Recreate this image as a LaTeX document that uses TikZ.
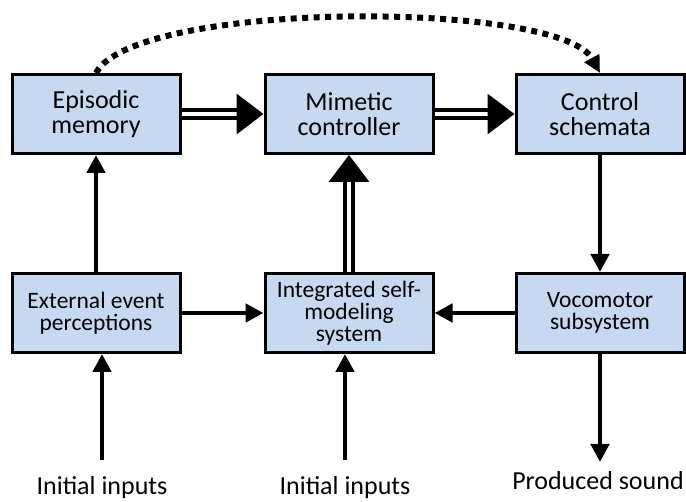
\documentclass[tikz,border=0pt]{standalone}
\usepackage{fontspec}
\setmainfont{Carlito}
\usetikzlibrary{arrows.meta,shadows}
\definecolor{boxblue}{RGB}{198,217,241}
\tikzset{
    blk/.style={draw, line width=3pt, fill=boxblue, minimum width=168pt, minimum height=79pt,
        align=center, drop shadow={shadow xshift=2pt, shadow yshift=-2pt, opacity=0.3}},
    upper/.style={blk, font=\fontsize{26}{24.5}\selectfont},
    lower/.style={blk, font=\fontsize{23.5}{22}\selectfont},
    lbl/.style={inner sep=0pt, font=\fontsize{26}{30}\selectfont},
    arr/.style={line width=4.5pt, -{Triangle[length=18pt,width=18pt]}},
    dblarr/.style={double, double distance=4.5pt, line width=3.5pt, -{Triangle[length=27pt,width=40pt]}},
    dotarr/.style={line width=6pt, dash pattern=on 6pt off 5.5pt, -{Triangle[length=17pt,width=16pt]}}
}
\begin{document}
\begin{tikzpicture}[x=1pt,y=1pt]
    \useasboundingbox (0,0) rectangle (686,502);

    \node[upper] (epi) at (96,388) {Episodic\\memory};
    \node[upper] (mim) at (349,388) {Mimetic\\controller};
    \node[upper] (ctl) at (600,388) {Control\\schemata};

    \node[lower] (ext) at (96,189) {External event\\perceptions};
    \node[lower] (ism) at (349,189) {Integrated self-\\modeling\\system};
    \node[lower] (voc) at (600,189) {Vocomotor\\subsystem};

    \node[lbl] (in1) at (102,14) {Initial inputs};
    \node[lbl] (in2) at (345,14) {Initial inputs};
    \node[lbl] (snd) at (598,21) {Produced sound};
    \coordinate (in1src) at (102,42);
    \coordinate (in2src) at (345,42);
    \coordinate (sndtip) at (600,40);

    \draw[dblarr] (epi) -- (mim);
    \draw[dblarr] (mim) -- (ctl);
    \draw[dblarr] (ism) -- (mim);

    \draw[arr] (ext) -- (epi);
    \draw[arr] (ctl) -- (voc);
    \draw[arr] (ext) -- (ism);
    \draw[arr] (voc) -- (ism);
    \draw[arr] (in1src) -- (ext.south -| in1src);
    \draw[arr] (in2src) -- (ism.south -| in2src);
    \draw[arr] (voc.south) -- (sndtip);

    \draw[dotarr] (epi.north) .. controls (135,502) and (560,502) .. (ctl.north);
\end{tikzpicture}
\end{document}
